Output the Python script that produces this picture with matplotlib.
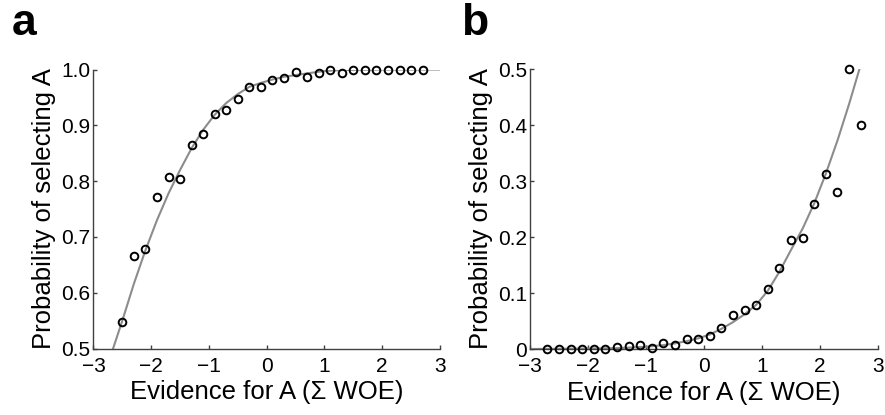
import matplotlib
matplotlib.use('Agg')
import matplotlib.pyplot as plt

plt.rcParams['font.family'] = ['Liberation Sans', 'DejaVu Sans']

# ── Data: panel a (probability of selecting A) ────────────────────────────────
a_x = [-2.5, -2.3, -2.1, -1.9, -1.7, -1.5, -1.3, -1.1, -0.9, -0.7, -0.5, -0.3,
       -0.1, 0.1, 0.3, 0.5, 0.7, 0.9, 1.1, 1.3, 1.5, 1.7, 1.9, 2.1, 2.3, 2.5, 2.7]
a_y = [0.547, 0.666, 0.679, 0.772, 0.808, 0.804, 0.865, 0.885, 0.920, 0.928,
       0.948, 0.969, 0.969, 0.982, 0.984, 0.995, 0.986, 0.993, 1.000, 0.993,
       1.000, 1.000, 1.000, 1.000, 1.000, 1.000, 1.000]
a_fit_x = [-2.66, -2.5, -2.3, -2.1, -1.9, -1.7, -1.5, -1.3, -1.1, -0.9, -0.7,
           -0.5, -0.3, -0.1, 0.1, 0.3, 0.5, 0.7, 0.9, 1.1, 1.3, 1.5, 2.0, 3.0]
a_fit_y = [0.500, 0.550, 0.616, 0.676, 0.730, 0.778, 0.820, 0.859, 0.892, 0.919,
           0.940, 0.956, 0.969, 0.976, 0.982, 0.987, 0.990, 0.993, 0.996, 0.998,
           0.999, 0.9995, 1.000, 1.000]

# ── Data: panel b ─────────────────────────────────────────────────────────────
b_x = [-2.7, -2.5, -2.3, -2.1, -1.9, -1.7, -1.5, -1.3, -1.1, -0.9, -0.7, -0.5,
       -0.3, -0.1, 0.1, 0.3, 0.5, 0.7, 0.9, 1.1, 1.3, 1.5, 1.7, 1.9, 2.1, 2.3,
       2.5, 2.7]
b_y = [0.000, 0.000, 0.000, 0.000, 0.000, 0.000, 0.003, 0.006, 0.008, 0.002,
       0.010, 0.007, 0.018, 0.018, 0.024, 0.037, 0.060, 0.069, 0.078, 0.107,
       0.144, 0.195, 0.198, 0.259, 0.313, 0.281, 0.500, 0.400]
b_fit_x = [-3.0, -2.5, -2.0, -1.5, -1.0, -0.7, -0.5, -0.3, -0.1, 0.1, 0.3, 0.5,
           0.7, 0.9, 1.1, 1.3, 1.5, 1.7, 1.9, 2.1, 2.3, 2.5, 2.68]
b_fit_y = [0.000, 0.0005, 0.001, 0.0015, 0.004, 0.007, 0.010, 0.014, 0.019,
           0.026, 0.036, 0.048, 0.062, 0.079, 0.104, 0.138, 0.177, 0.215, 0.260,
           0.313, 0.372, 0.437, 0.500]

x_ticks = [-3, -2, -1, 0, 1, 2, 3]
x_labels = ['\u22123', '\u22122', '\u22121', '0', '1', '2', '3']
a_yticks = [0.5, 0.6, 0.7, 0.8, 0.9, 1.0]
a_ylabels = ['0.5', '0.6', '0.7', '0.8', '0.9', '1.0']
b_yticks = [0, 0.1, 0.2, 0.3, 0.4, 0.5]
b_ylabels = ['0', '0.1', '0.2', '0.3', '0.4', '0.5']

AXIS_C = '#404040'
FIT_C = '#8c8c8c'

fig = plt.figure(figsize=(8.85, 4.15), dpi=100)
ax_a = fig.add_axes([0.1056, 0.1602, 0.3915, 0.6723])
ax_b = fig.add_axes([0.5989, 0.1590, 0.3932, 0.6747])


def style(ax, fx, fy, px, py, yticks, ylabels, ylim):
    ax.plot(fx, fy, color=FIT_C, lw=1.5, zorder=2)
    ax.plot(px, py, 'o', mfc='none', mec='black', ms=5.5, mew=1.4,
            clip_on=False, zorder=3)
    ax.set_xlim(-3, 3)
    ax.set_ylim(*ylim)
    ax.set_xticks(x_ticks)
    ax.set_xticklabels(x_labels)
    ax.set_yticks(yticks)
    ax.set_yticklabels(ylabels)
    for s in ['top', 'right']:
        ax.spines[s].set_visible(False)
    for s in ['left', 'bottom']:
        ax.spines[s].set_color(AXIS_C)
        ax.spines[s].set_linewidth(1.0)
    ax.tick_params(direction='in', length=3, width=1.0, color=AXIS_C,
                   labelsize=15)
    ax.tick_params(axis='x', pad=6)
    ax.tick_params(axis='y', pad=2)
    ax.set_xlabel('Evidence for A (\u03a3 WOE)', fontsize=18.5, labelpad=3)
    ax.set_ylabel('Probability of selecting A', fontsize=18.5, labelpad=4)


style(ax_a, a_fit_x, a_fit_y, a_x, a_y, a_yticks, a_ylabels, (0.5, 1.0))
style(ax_b, b_fit_x, b_fit_y, b_x, b_y, b_yticks, b_ylabels, (0, 0.5))

fig.text(0.013, 0.915, 'a', fontsize=32, fontweight='bold')
fig.text(0.521, 0.915, 'b', fontsize=32, fontweight='bold')

fig.savefig('out.png', dpi=100)
